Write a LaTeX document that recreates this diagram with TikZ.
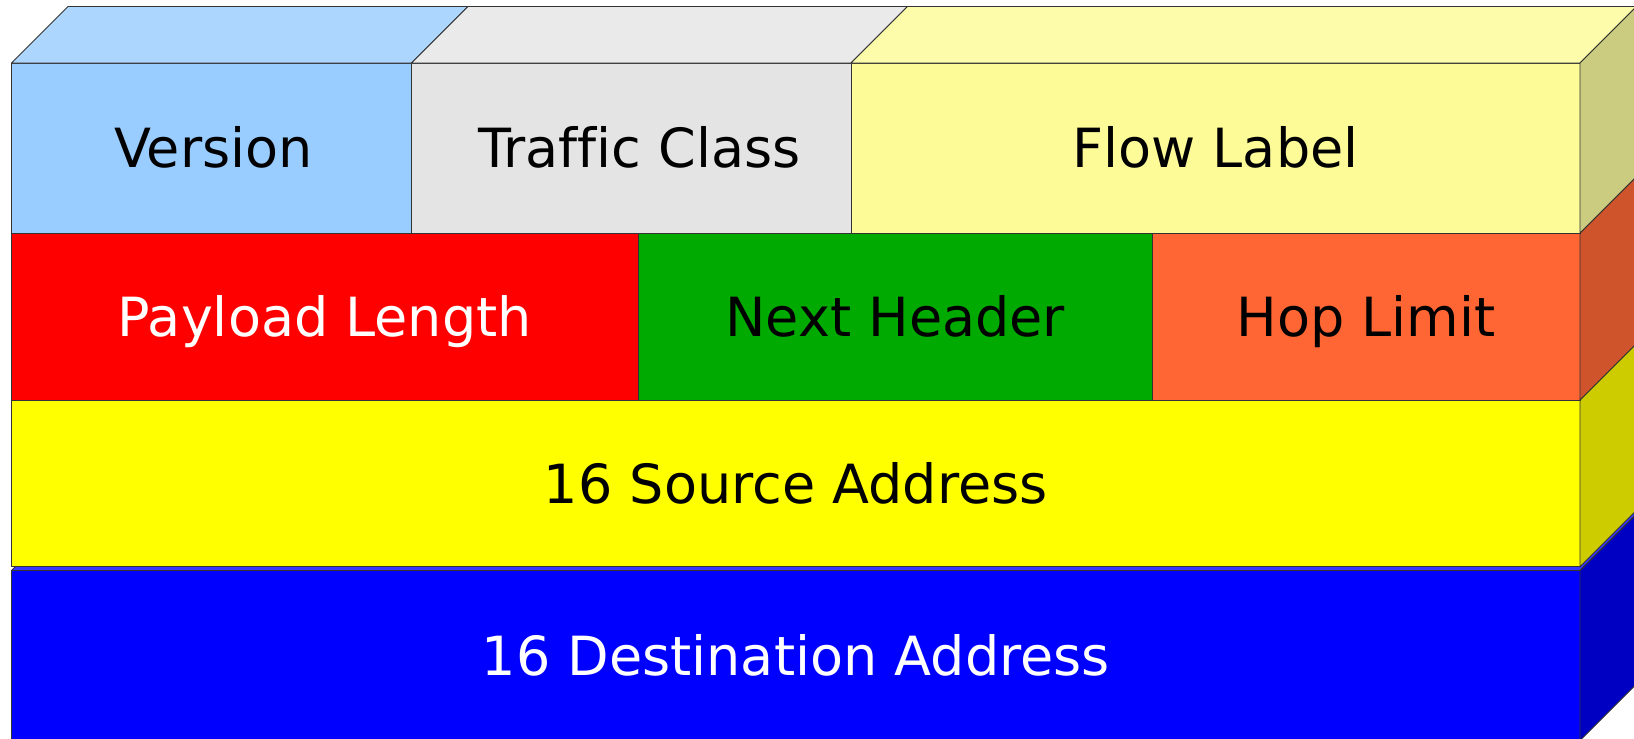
\documentclass[tikz,border=0pt]{standalone}
\usepackage{fontspec}
\setmainfont[Ligatures=NoCommon]{DejaVu Sans}
\definecolor{verfront}{HTML}{99CCFF}
\definecolor{vertop}{HTML}{ADD6FF}
\definecolor{tcfront}{HTML}{E4E4E4}
\definecolor{tctop}{HTML}{EAEAEA}
\definecolor{flfront}{HTML}{FCFB98}
\definecolor{fltop}{HTML}{FDFCAA}
\definecolor{flside}{HTML}{CCCC80}
\definecolor{plfront}{HTML}{FF0000}
\definecolor{nhfront}{HTML}{00AA00}
\definecolor{hlfront}{HTML}{FF6633}
\definecolor{hlside}{HTML}{CF542B}
\definecolor{safront}{HTML}{FFFF00}
\definecolor{saside}{HTML}{CCCC00}
\definecolor{dafront}{HTML}{0000FF}
\definecolor{daside}{HTML}{0000C2}
\definecolor{datop}{HTML}{3838FF}
\tikzset{
  face/.style={draw=black!80, line width=0.9pt, line join=round},
  frontbox/.style={face, inner sep=0pt, outer sep=0pt, anchor=north west,
    font=\fontsize{54}{60}\selectfont, text height=39.4pt, text depth=0pt},
}
\begin{document}
\begin{tikzpicture}[x=1pt,y=-1pt]
\useasboundingbox (0,0) rectangle (1634,739);
\clip (0,0) rectangle (1634,739);
% ---- destination address box
\node[frontbox, fill=dafront, text=white, minimum width=1568.5pt, minimum height=170pt] (da) at (11.5,570.5) {16 Destination Address};
\filldraw[face, fill=datop] (da.north west) -- ++(56.5,-56.5) -- ++(1568.5,0) -- (da.north east) -- cycle;
\filldraw[face, fill=daside] (da.north east) -- ++(56.5,-56.5) -- ++(0,170) -- (da.south east) -- cycle;
% ---- source address box
\node[frontbox, fill=safront, text=black, minimum width=1568.5pt, minimum height=166.7pt] (sa) at (11.5,400) {16 Source Address};
\filldraw[face, fill=saside] (sa.north east) -- ++(56.5,-56.5) -- ++(0,166.7) -- (sa.south east) -- cycle;
% ---- row 2
\node[frontbox, fill=plfront, text=white, minimum width=626.5pt, minimum height=167pt] (pl) at (11.5,233) {Payload Length};
\node[frontbox, fill=nhfront, text=black, minimum width=514.5pt, minimum height=167pt] (nh) at (638,233) {Next Header};
\node[frontbox, fill=hlfront, text=black, minimum width=427.5pt, minimum height=167pt] (hl) at (1152.5,233) {Hop Limit};
\filldraw[face, fill=hlside] (hl.north east) -- ++(56.5,-56.5) -- ++(0,167) -- (hl.south east) -- cycle;
% ---- row 1
\node[frontbox, fill=verfront, text=black, minimum width=400pt, minimum height=170pt] (ver) at (11.5,63) {\hspace*{4pt}Version};
\node[frontbox, fill=tcfront, text=black, minimum width=439.5pt, minimum height=170pt] (tc) at (411.5,63) {\hspace*{16pt}Traffic Class};
\node[frontbox, fill=flfront, text=black, minimum width=729pt, minimum height=170pt] (fl) at (851,63) {Flow Label};
\filldraw[face, fill=vertop] (ver.north west) -- ++(56.5,-56.5) -- ++(400,0) -- (ver.north east) -- cycle;
\filldraw[face, fill=tctop] (tc.north west) -- ++(56.5,-56.5) -- ++(439.5,0) -- (tc.north east) -- cycle;
\filldraw[face, fill=fltop] (fl.north west) -- ++(56.5,-56.5) -- ++(729,0) -- (fl.north east) -- cycle;
\filldraw[face, fill=flside] (fl.north east) -- ++(56.5,-56.5) -- ++(0,170) -- (fl.south east) -- cycle;
\end{tikzpicture}
\end{document}
